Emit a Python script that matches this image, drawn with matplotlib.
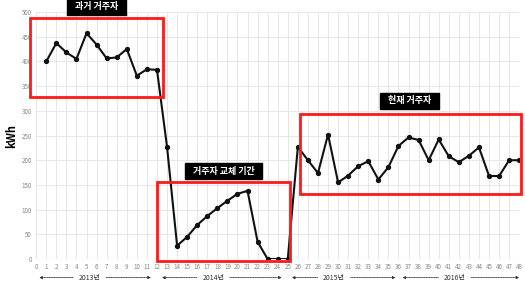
import matplotlib
matplotlib.use("Agg")
import matplotlib.pyplot as plt
from matplotlib.patches import Rectangle

plt.rcParams['font.family'] = ['Noto Sans CJK KR', 'DejaVu Sans']

# monthly index 1..48 and consumption (kWh)
months = list(range(1, 49))
kwh = [400, 437, 418, 405, 457, 434, 406, 408, 425, 371, 384, 383,
       227, 27, 45, 69, 87, 103, 118, 132, 138, 35, 0, 0,
       0, 227, 200, 174, 252, 155, 169, 188, 198, 161, 186, 229,
       246, 241, 200, 242, 208, 196, 209, 226, 168, 168, 200, 200]

# highlighted periods: (x0, x1, y0, y1), label, label position
periods = [
    ((-0.6, 12.6, 328, 488), '과거 거주자', (6.0, 511)),
    ((12.0, 25.2, -4, 155), '거주자 교체 기간', (18.6, 178)),
    ((26.2, 48.2, 131, 293), '현재 거주자', (37.1, 320)),
]

# year spans along the x axis: (label, start, end, text x)
years = [('2013년', 0.3, 11.4, 5.3),
         ('2014년', 12.5, 24.4, 17.6),
         ('2015년', 25.4, 35.7, 29.6),
         ('2016년', 36.4, 48.0, 41.6)]

fig = plt.figure(figsize=(5.25, 2.85), dpi=100)
ax = fig.add_axes([0.069, 0.091, 0.92, 0.867])

ax.plot(months, kwh, color='#111111', lw=1.5, marker='o', ms=2.8, zorder=3)

ax.set_xlim(0, 48)
ax.set_ylim(0, 500)
ax.set_xticks(range(0, 49))
ax.set_yticks(range(0, 501, 50))
ax.tick_params(labelsize=4.5, colors='#888888', length=0, pad=3)
ax.grid(True, color='#e6e6e6', lw=0.7)
ax.set_axisbelow(True)
for s in ax.spines.values():
    s.set_visible(False)
ax.axhline(0, color='#d0d0d0', lw=0.8, zorder=1)
ax.set_ylabel('kWh', fontsize=8, fontweight='bold', labelpad=3)

for (x0, x1, y0, y1), label, (tx, ty) in periods:
    ax.add_patch(Rectangle((x0, y0), x1 - x0, y1 - y0, fill=False,
                           ec='#ff1a1a', lw=2.0, clip_on=False, zorder=4))
    ax.text(tx, ty, '  ' + label + '  ', color='white', fontsize=6.5,
            fontweight='bold', ha='center', va='center', clip_on=False,
            zorder=5,
            bbox=dict(boxstyle='square,pad=0.4', fc='black', ec='black'))

ytxt = -0.075
for label, x0, x1, tx in years:
    for xe, col in ((x0, '#333333'), (x1, (0, 0, 0, 0))):
        ax.annotate(label, xy=(xe, ytxt), xytext=(tx, ytxt),
                    xycoords=('data', 'axes fraction'),
                    textcoords=('data', 'axes fraction'),
                    fontsize=5, color=col,
                    ha='center', va='center', annotation_clip=False,
                    arrowprops=dict(arrowstyle='-|>', color='#333333', lw=0.6,
                                    ls=(0, (1, 1)), mutation_scale=4,
                                    shrinkA=2, shrinkB=0))

fig.savefig('out.png', dpi=100)
